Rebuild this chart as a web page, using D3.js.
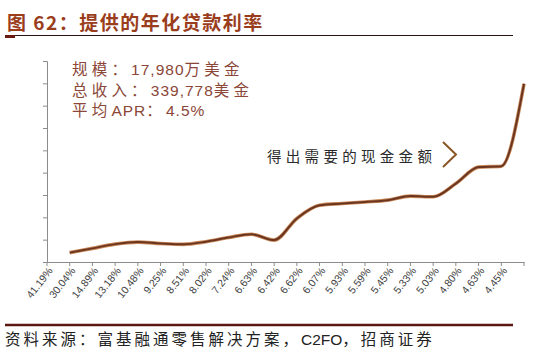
<!DOCTYPE html>
<html>
<head>
<meta charset="utf-8">
<script src="https://cdn.jsdelivr.net/npm/d3@7"></script>
<style>
  body { margin: 0; background: #fff; }
  svg { display: block; font-family: "Noto Sans CJK SC", "Noto Sans", sans-serif; }
</style>
</head>
<body>
<div id="chart"></div>
<script>
// APR buckets along the x axis
const rates = ['41.19%', '30.04%', '14.89%', '13.18%', '10.48%', '9.25%', '8.51%', '8.02%', '7.24%', '6.63%', '6.42%',
  '6.62%', '6.07%', '5.93%', '5.59%', '5.45%', '5.33%', '5.03%', '4.80%', '4.63%', '4.45%'];
// cash amount (unlabeled axis units)
const amounts = [0.42, 0.61, 0.80, 0.89, 0.83, 0.79, 0.91, 1.10, 1.24, 0.98, 1.95,
  2.54, 2.62, 2.69, 2.77, 2.95, 2.92, 3.51, 4.25, 4.29, 7.98];
const yTicks = d3.range(0, 10);
const notes = ['规模：17,980万美金', '总收入：339,778美金', '平均APR：4.5%'];

const width = 549, height = 363;
const x = d3.scaleBand().domain(rates).range([47, 524]);
const y = d3.scaleLinear().domain([0, 9]).range([262, 61]);

// split mixed text so CJK runs get wider spacing than latin ones
function runs(sel, str, cjkGap, latGap) {
  str.split(/([\u3000-\u9fff\uff00-\uffef]+)/).filter(s => s).forEach(s => {
    const cjk = /[\u3000-\u9fff\uff00-\uffef]/.test(s);
    sel.append('tspan')
        .attr('font-family', cjk ? '"Noto Sans CJK SC"' : '"Liberation Sans", Arial, sans-serif')
        .attr('letter-spacing', cjk ? cjkGap : latGap)
        .text(s);
  });
}

const svg = d3.select('#chart').append('svg')
    .attr('width', width)
    .attr('height', height);

// title + rule
svg.append('text')
    .attr('x', 7).attr('y', 30)
    .attr('fill', '#9a3d1c')
    .attr('font-size', 19)
    .attr('font-weight', 'bold')
    .attr('letter-spacing', 1.5)
    .text('图 62：提供的年化贷款利率');
svg.append('line')
    .attr('x1', 5).attr('x2', 513).attr('y1', 35.5).attr('y2', 35.5)
    .attr('stroke', '#2a1410').attr('stroke-width', 1.2);
svg.append('rect')
    .attr('x', 5).attr('y', 35).attr('width', 10).attr('height', 3)
    .attr('fill', '#6a1a10');

// axes
const gx = svg.append('g')
    .attr('transform', 'translate(0,262)')
    .call(d3.axisBottom(x).tickSize(0).tickFormat(''));
gx.select('.domain').attr('stroke', '#8c8c8c');
gx.selectAll('.edge')
  .data(d3.range(rates.length + 1))
  .join('line')
    .attr('x1', i => 47 + i * x.step()).attr('x2', i => 47 + i * x.step())
    .attr('y1', 0).attr('y2', 4)
    .attr('stroke', '#8c8c8c');
gx.selectAll('.lbl')
  .data(rates)
  .join('text')
    .attr('transform', d => `translate(${x(d) + x.bandwidth() / 2 - 5},9) rotate(-52)`)
    .attr('text-anchor', 'end')
    .attr('font-family', 'Liberation Sans, Arial, sans-serif')
    .attr('font-size', 10.5)
    .attr('fill', '#404040')
    .text(d => d);

const gy = svg.append('g')
    .attr('transform', 'translate(47,0)')
    .call(d3.axisLeft(y).tickValues(yTicks).tickSize(4).tickFormat(''));
gy.select('.domain').attr('stroke', '#8c8c8c');
gy.selectAll('.tick line').attr('stroke', '#8c8c8c');

// curve
const line = d3.line()
    .x((d, i) => x(rates[i]) + x.bandwidth())
    .y(d => y(d))
    .curve(d3.curveMonotoneX);
svg.append('path')
    .datum(amounts)
    .attr('fill', 'none')
    .attr('stroke', '#c98a5a')
    .attr('stroke-width', 3.6)
    .attr('d', line);
svg.append('path')
    .datum(amounts)
    .attr('fill', 'none')
    .attr('stroke', '#6b3520')
    .attr('stroke-width', 2)
    .attr('d', line);

// notes
svg.append('g')
  .selectAll('text')
  .data(notes)
  .join('text')
    .attr('x', 72)
    .attr('y', (d, i) => 75 + i * 20.5)
    .attr('fill', '#8a4636')
    .attr('font-size', 15.5)
    .each(function(d) { runs(d3.select(this), d, 4.2, 1); });

svg.append('text')
    .attr('x', 267).attr('y', 162)
    .attr('fill', '#2b2b2b')
    .attr('font-size', 14.5)
    .attr('letter-spacing', 4.3)
    .text('得出需要的现金金额');
svg.append('path')
    .attr('d', 'M443,142 L456,154.5 L443,167')
    .attr('fill', 'none')
    .attr('stroke', '#8b5525')
    .attr('stroke-width', 2);

// footer
svg.append('line')
    .attr('x1', 5).attr('x2', 513).attr('y1', 325).attr('y2', 325)
    .attr('stroke', '#5a1810').attr('stroke-width', 2.5);
const foot = svg.append('text')
    .attr('x', 5).attr('y', 345)
    .attr('fill', '#222')
    .attr('font-size', 15.5);
runs(foot, '资料来源：富基融通零售解决方案，C2FO，招商证券', 3.0, 0);
</script>
</body>
</html>
